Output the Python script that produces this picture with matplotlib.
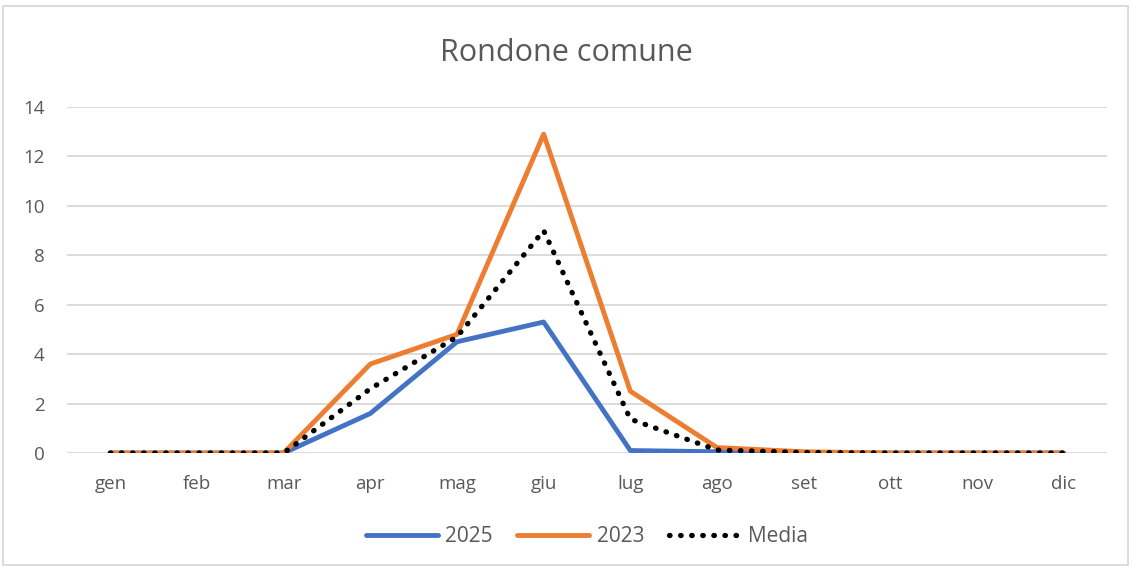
import numpy as np
import matplotlib.pyplot as plt
from matplotlib.patches import Rectangle

plt.rcParams['font.family'] = ['Open Sans', 'DejaVu Sans']

mesi = ['gen', 'feb', 'mar', 'apr', 'mag', 'giu', 'lug', 'ago', 'set', 'ott', 'nov', 'dic']
v2025 = [0, 0, 0, 1.6, 4.5, 5.3, 0.1, 0.05, 0, 0, 0, 0]
v2023 = [0, 0, 0, 3.6, 4.8, 12.9, 2.5, 0.22, 0.05, 0, 0, 0]
media = [0, 0, 0, 2.6, 4.7, 9.0, 1.37, 0.12, 0.02, 0, 0, 0]

grigio = '#595959'

fig = plt.figure(figsize=(11.32, 5.69), dpi=100)
ax = fig.add_axes([67/1132, 1-453/569, (1107-67)/1132, (453-107)/569])

x = np.arange(len(mesi))
ax.plot(x, v2025, color='#4472C4', linewidth=3.5, label='2025', solid_capstyle='round')
ax.plot(x, v2023, color='#ED7D31', linewidth=3.5, label='2023', solid_capstyle='round')
ax.plot(x, media, color='black', linewidth=3.8, linestyle=(0, (0.1, 2.0)),
        dash_capstyle='round', label='Media')

ax.set_xlim(-0.5, 11.5)
ax.set_ylim(0, 14)
ax.set_yticks(range(0, 15, 2))
ax.set_xticks(x)
ax.set_xticklabels(mesi)
ax.grid(axis='y', color='#d9d9d9', linewidth=1.3)
ax.set_axisbelow(True)
for s in ax.spines.values():
    s.set_visible(False)
ax.tick_params(length=0, labelsize=13.5, colors=grigio)
ax.tick_params(axis='x', pad=16)
ax.tick_params(axis='y', pad=16)

fig.text(0.5, 1-53/569, 'Rondone comune', ha='center', va='center', fontsize=22, color=grigio)

lgd = ax.legend(loc='center', bbox_to_anchor=(0.5, (453-537)/(453-107)), ncol=3, frameon=False,
                fontsize=15, handlelength=3.45, columnspacing=1.2, handletextpad=0.35,
                labelcolor=grigio)

fig.patches.append(Rectangle((3/1132, 4/569), 1125/1132, 559/569, transform=fig.transFigure,
                             fill=False, edgecolor='#d9d9d9', linewidth=1.3))

fig.savefig('out.png', dpi=100)
